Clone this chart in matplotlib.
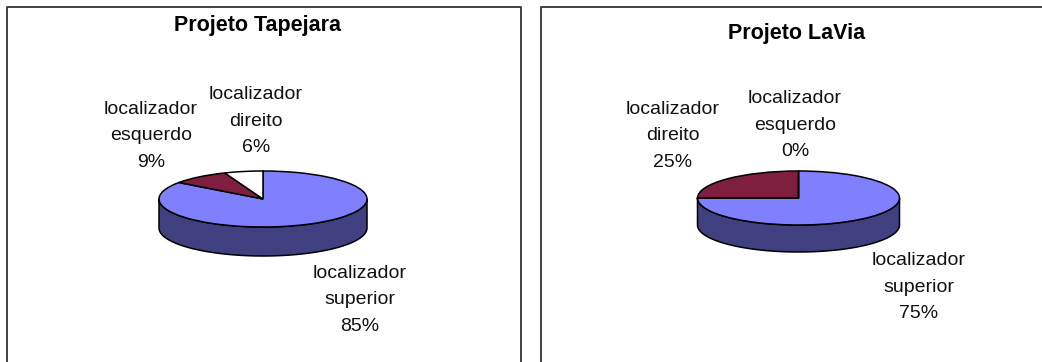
#!/usr/bin/env python3
"""Two pseudo-3D pie charts: locator usage in the Tapejara and LaVia projects."""
import matplotlib
matplotlib.use('Agg')
import matplotlib.pyplot as plt
import numpy as np

W, H = 1042, 362
plt.rcParams['font.family'] = ['Liberation Sans', 'DejaVu Sans']

tapejara_labels = ['localizador\nsuperior', 'localizador\nesquerdo', 'localizador\ndireito']
tapejara_values = [85, 9, 6]
tapejara_colors = ['#8080FF', '#7F1F3F', '#FFFFFF']

lavia_labels = ['localizador\nsuperior', 'localizador\ndireito', 'localizador\nesquerdo']
lavia_values = [75, 25, 0]
lavia_colors = ['#8080FF', '#7F1F3F', '#FFFFFF']

TEXT = '#111111'
SIDE = '#404080'

fig = plt.figure(figsize=(W / 100, H / 100), dpi=100, facecolor='white')

# background axes in pixel units for frames and text
bg = fig.add_axes([0, 0, 1, 1])
bg.set_xlim(0, W)
bg.set_ylim(H, 0)
bg.axis('off')


def draw_panel(frame, title, title_pos, labels, values, colors, label_pos, cx, cy, a, b, depth):
    x0, x1 = frame
    bg.plot([x0, x0, x1, x1], [H + 5, 6.5, 6.5, H + 5], color='#333333', lw=1.3, clip_on=False)
    bg.text(*title_pos, title, ha='center', va='center', fontsize=15.5, fontweight='bold', color='black')

    ax = fig.add_axes([(cx - a) / W, 1 - (cy + b + depth) / H, 2 * a / W, (2 * b + depth) / H])
    d = depth / b

    # side wall below the front half of the disc
    t = np.linspace(np.pi, 2 * np.pi, 120)
    xs = np.r_[np.cos(t), np.cos(t)[::-1]]
    ys = np.r_[np.sin(t) - d, np.sin(t)[::-1]]
    ax.fill(xs, ys, facecolor=SIDE, edgecolor='black', lw=1.1, clip_on=False)

    wedges, _ = ax.pie(values, colors=colors, startangle=90, counterclock=False,
                       wedgeprops=dict(edgecolor='black', linewidth=1.1))
    for w in wedges:
        w.set_clip_on(False)
    ax.set_aspect('auto')
    ax.set_xlim(-1, 1)
    ax.set_ylim(-1 - d, 1)
    ax.axis('off')

    for lab, val, pos in zip(labels, values, label_pos):
        bg.text(*pos, f'{lab}\n{val}%', ha='center', va='center', fontsize=14,
                linespacing=1.72, color=TEXT)


draw_panel((6.5, 520.5), 'Projeto Tapejara', (257, 26),
           tapejara_labels, tapejara_values, tapejara_colors,
           [(360, 300), (151, 136), (256, 121)],
           263, 199, 104, 28, 29)
draw_panel((541, W + 5), 'Projeto LaVia', (797, 34),
           lavia_labels, lavia_values, lavia_colors,
           [(919, 287), (673, 136), (795, 125)],
           798.5, 198, 101, 27, 27)

fig.savefig('out.png', dpi=100)
plt.close()
